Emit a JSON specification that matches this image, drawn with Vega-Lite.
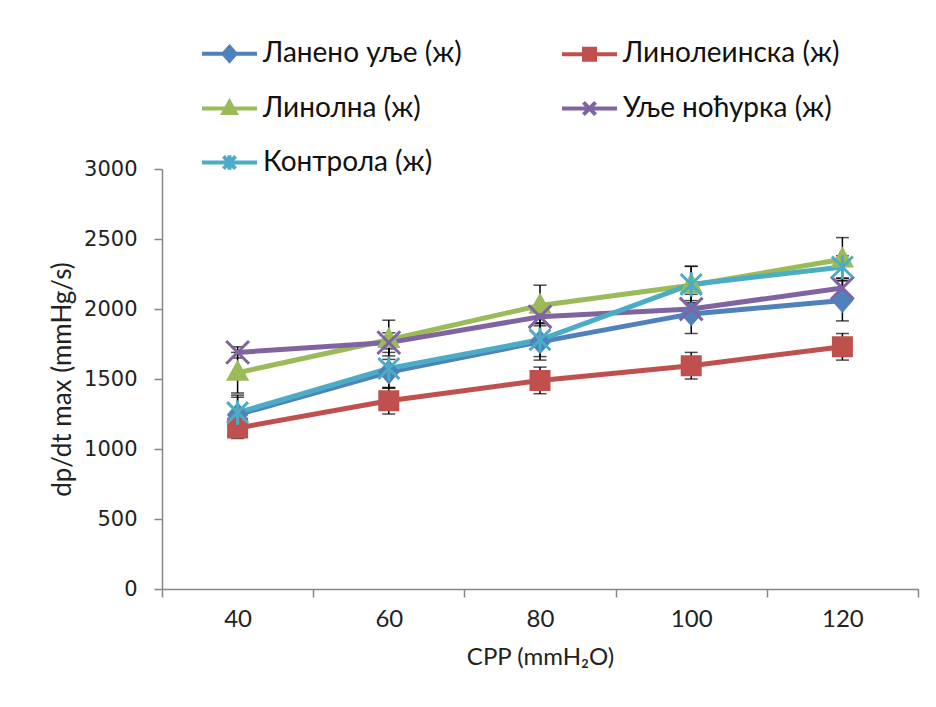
{
  "$schema": "https://vega.github.io/schema/vega-lite/v6.json",
  "width": 756,
  "height": 420,
  "autosize": {"type": "none"},
  "padding": {"left": 162, "top": 169, "right": 18, "bottom": 118},
  "background": "white",
  "config": {
    "view": {"stroke": null},
    "font": "Lato"
  },
  "data": {
    "values": [
      {"series": "Ланено уље (ж)", "cpp": 40, "value": 1245, "err": 140},
      {"series": "Ланено уље (ж)", "cpp": 60, "value": 1550, "err": 115},
      {"series": "Ланено уље (ж)", "cpp": 80, "value": 1765, "err": 130},
      {"series": "Ланено уље (ж)", "cpp": 100, "value": 1965, "err": 140},
      {"series": "Ланено уље (ж)", "cpp": 120, "value": 2060, "err": 145},
      {"series": "Линолеинска (ж)", "cpp": 40, "value": 1150, "err": 75},
      {"series": "Линолеинска (ж)", "cpp": 60, "value": 1345, "err": 95},
      {"series": "Линолеинска (ж)", "cpp": 80, "value": 1490, "err": 95},
      {"series": "Линолеинска (ж)", "cpp": 100, "value": 1595, "err": 95},
      {"series": "Линолеинска (ж)", "cpp": 120, "value": 1730, "err": 95},
      {"series": "Линолна (ж)", "cpp": 40, "value": 1545, "err": 145},
      {"series": "Линолна (ж)", "cpp": 60, "value": 1780, "err": 140},
      {"series": "Линолна (ж)", "cpp": 80, "value": 2025, "err": 145},
      {"series": "Линолна (ж)", "cpp": 100, "value": 2170, "err": 135},
      {"series": "Линолна (ж)", "cpp": 120, "value": 2355, "err": 155},
      {"series": "Уље ноћурка (ж)", "cpp": 40, "value": 1690, "err": 40},
      {"series": "Уље ноћурка (ж)", "cpp": 60, "value": 1760, "err": 70},
      {"series": "Уље ноћурка (ж)", "cpp": 80, "value": 1945, "err": 45},
      {"series": "Уље ноћурка (ж)", "cpp": 100, "value": 2000, "err": 60},
      {"series": "Уље ноћурка (ж)", "cpp": 120, "value": 2150, "err": 70},
      {"series": "Контрола (ж)", "cpp": 40, "value": 1260, "err": 110},
      {"series": "Контрола (ж)", "cpp": 60, "value": 1575, "err": 140},
      {"series": "Контрола (ж)", "cpp": 80, "value": 1780, "err": 120},
      {"series": "Контрола (ж)", "cpp": 100, "value": 2175, "err": 130},
      {"series": "Контрола (ж)", "cpp": 120, "value": 2300, "err": 80}
    ]
  },
  "encoding": {
    "x": {
      "field": "cpp",
      "type": "quantitative",
      "scale": {"domain": [30, 130], "nice": false, "zero": false},
      "axis": {
        "title": "CPP (mmH₂O)",
        "values": [30, 40, 50, 60, 70, 80, 90, 100, 110, 120, 130],
        "labelExpr": "datum.value % 20 == 0 ? datum.label : ''",
        "tickOpacity": {"expr": "datum.value % 20 == 10 ? 1 : 0"},
        "format": "d",
        "grid": false,
        "domainColor": "#868686",
        "domainWidth": 1.5,
        "tickColor": "#868686",
        "tickWidth": 1.5,
        "tickSize": 8,
        "labelFont": "Lato",
        "labelFontSize": 24,
        "labelColor": "#222222",
        "labelPadding": 10,
        "labelFlush": false,
        "titleFont": "Lato",
        "titleFontSize": 24,
        "titleFontWeight": "normal",
        "titleColor": "#222222",
        "titlePadding": 14
      }
    },
    "y": {
      "field": "value",
      "type": "quantitative",
      "scale": {"domain": [0, 3000], "nice": false},
      "axis": {
        "title": "dp/dt max (mmHg/s)",
        "values": [0, 500, 1000, 1500, 2000, 2500, 3000],
        "format": "d",
        "grid": false,
        "domainColor": "#868686",
        "domainWidth": 1.5,
        "tickColor": "#868686",
        "tickWidth": 1.5,
        "tickSize": 8,
        "labelFont": "DejaVu Sans",
        "labelFontSize": 21,
        "labelColor": "#222222",
        "labelPadding": 17,
        "titleFont": "Lato",
        "titleFontSize": 26,
        "titleFontWeight": "normal",
        "titleColor": "#222222",
        "titlePadding": 8
      }
    }
  },
  "layer": [
    {
      "mark": {"type": "errorbar", "ticks": {"size": 13, "color": "black", "strokeWidth": 1.5}, "color": "black", "thickness": 1.5},
      "encoding": {
        "x": {"field": "cpp", "type": "quantitative"},
        "y": {"field": "value", "type": "quantitative"},
        "yError": {"field": "err"}
      }
    },
    {
      "mark": {"type": "line", "strokeWidth": 5},
      "encoding": {
        "color": {
          "field": "series",
          "type": "nominal",
          "scale": {
            "domain": ["Ланено уље (ж)", "Линолеинска (ж)", "Линолна (ж)", "Уље ноћурка (ж)", "Контрола (ж)"],
            "range": ["#4F81BD", "#C0504D", "#9BBB59", "#8064A2", "#4BACC6"]
          },
          "legend": {
            "orient": "none",
            "direction": "horizontal",
            "legendX": 38,
            "legendY": -145,
            "title": null,
            "columns": 2,
            "columnPadding": 92,
            "rowPadding": 10,
            "padding": 0,
            "symbolSize": 3025,
            "symbolStrokeWidth": 4,
            "labelFont": "Lato",
            "labelFontSize": 28,
            "labelColor": "#111111",
            "labelLimit": 400,
            "labelOffset": 4,
            "encode": {
              "symbols": {
                "update": {
                  "shape": {"signal": "datum.value === 'Ланено уље (ж)' ? 'M-1,0L1,0M0,-0.25L0.22,0L0,0.25L-0.22,0Z' : datum.value === 'Линолеинска (ж)' ? 'M-1,0L1,0M-0.2,-0.2L0.2,-0.2L0.2,0.2L-0.2,0.2Z' : datum.value === 'Линолна (ж)' ? 'M-1,0L1,0M0,-0.24L0.22,0.16L-0.22,0.16Z' : datum.value === 'Уље ноћурка (ж)' ? 'M-1,0L1,0M-0.22,-0.22L0.22,0.22M-0.22,0.22L0.22,-0.22' : 'M-1,0L1,0M-0.22,-0.22L0.22,0.22M-0.22,0.22L0.22,-0.22M0,-0.26L0,0.26'"},
                  "fill": {"scale": "color", "field": "value"},
                  "stroke": {"scale": "color", "field": "value"},
                  "strokeWidth": {"value": 4},
                  "opacity": {"value": 1}
                }
              }
            }
          }
        },
        "order": {"field": "cpp"}
      }
    },
    {
      "transform": [{"filter": "datum.series === 'Ланено уље (ж)'"}],
      "mark": {"type": "point", "shape": "M0,-1.15L1,0L0,1.15L-1,0Z", "filled": true, "size": 361, "opacity": 1, "strokeWidth": 2, "color": "#4F81BD", "stroke": "#4F81BD"}
    },
    {
      "transform": [{"filter": "datum.series === 'Линолеинска (ж)'"}],
      "mark": {"type": "point", "shape": "M-1,-1L1,-1L1,1L-1,1Z", "filled": true, "size": 361, "opacity": 1, "strokeWidth": 2, "color": "#C0504D", "stroke": "#C0504D"}
    },
    {
      "transform": [{"filter": "datum.series === 'Линолна (ж)'"}],
      "mark": {"type": "point", "shape": "M0,-1.15L1.05,0.75L-1.05,0.75Z", "filled": true, "size": 361, "opacity": 1, "strokeWidth": 2, "color": "#9BBB59", "stroke": "#9BBB59"}
    },
    {
      "transform": [{"filter": "datum.series === 'Уље ноћурка (ж)'"}],
      "mark": {"type": "point", "shape": "M-1.2,-1.2L1.2,1.2M-1.2,1.2L1.2,-1.2", "filled": false, "size": 361, "opacity": 1, "strokeWidth": 3, "color": "#8064A2", "stroke": "#8064A2"}
    },
    {
      "transform": [{"filter": "datum.series === 'Контрола (ж)'"}],
      "mark": {"type": "point", "shape": "M-1.1,-1.1L1.1,1.1M-1.1,1.1L1.1,-1.1M0,-1.3L0,1.3", "filled": false, "size": 361, "opacity": 1, "strokeWidth": 3, "color": "#4BACC6", "stroke": "#4BACC6"}
    }
  ]
}
